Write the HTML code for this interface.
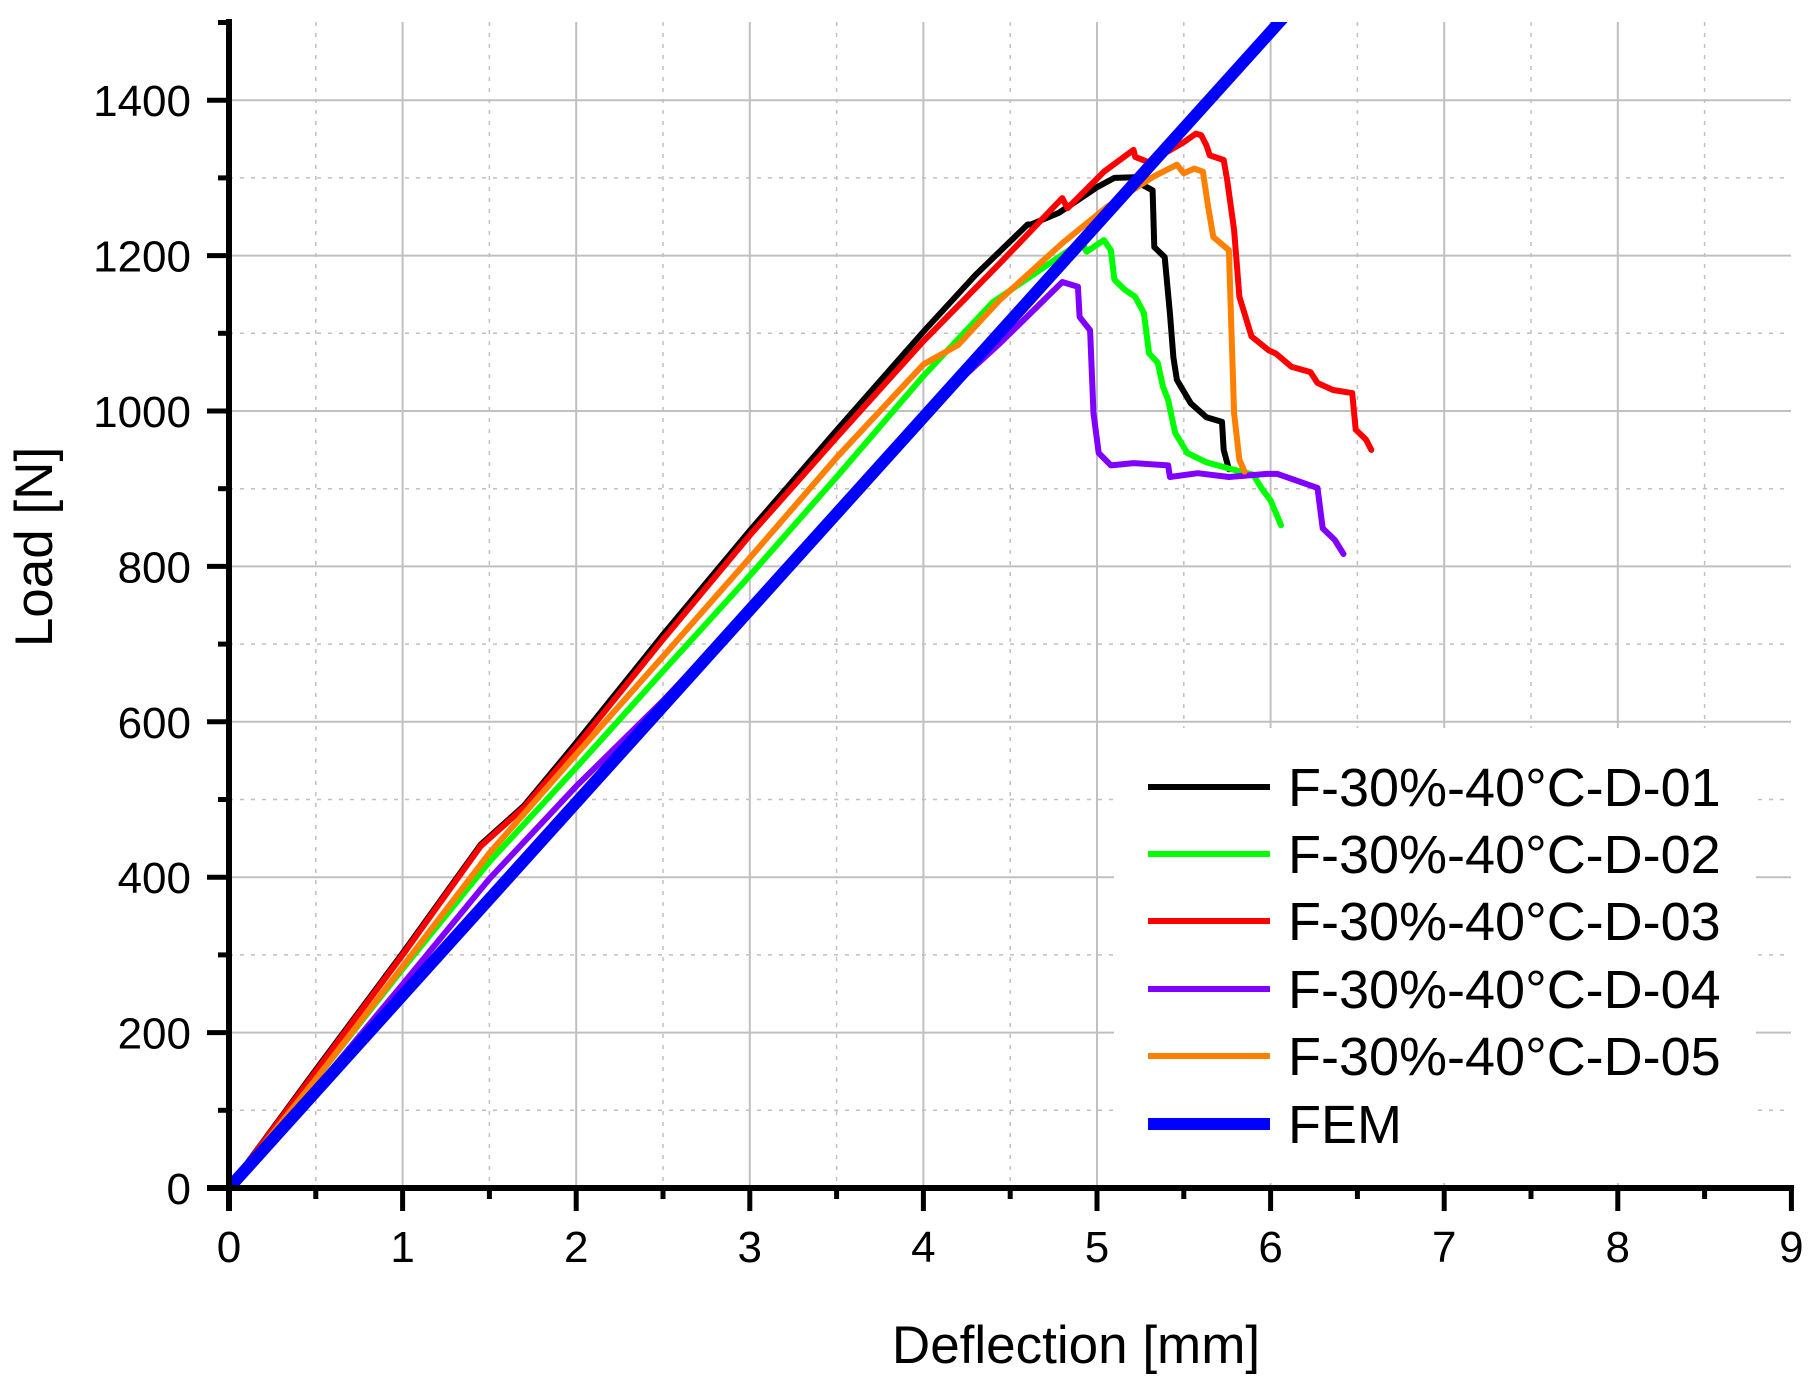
<!DOCTYPE html>
<html><head><meta charset="utf-8"><style>
html,body{margin:0;padding:0;background:#fff;}
svg{display:block;font-family:"Liberation Sans",Arial,sans-serif;}
</style></head><body>
<svg id="chart" width="1820" height="1386" viewBox="0 0 1820 1386" xmlns="http://www.w3.org/2000/svg">
<defs><clipPath id="plotclip"><rect x="229" y="22" width="1562" height="1166"/></clipPath></defs>
<g id="grid"></g>
<g id="series" clip-path="url(#plotclip)"></g>
<g id="legend"></g>
<g id="axes"></g>
<text x="1076" y="1363" font-size="53" text-anchor="middle">Deflection [mm]</text>
<text transform="translate(52,547) rotate(-90)" font-size="53" text-anchor="middle">Load [N]</text>
</svg>
<script>
const xTicks = [0,1,2,3,4,5,6,7,8,9];
const yTicks = [0,200,400,600,800,1000,1200,1400];
const seriesNames = ["F-30%-40°C-D-01","F-30%-40°C-D-02","F-30%-40°C-D-03","F-30%-40°C-D-04","F-30%-40°C-D-05","FEM"];
const seriesColors = ["#000000","#00ff00","#ff0000","#8000ff","#ff8000","#0000ff"];
const d01x = [0,0.5,1,1.45,1.7,2,2.5,3,3.5,4,4.3,4.6,4.62,4.78,5.0,5.1,5.24,5.27,5.32,5.33,5.39,5.42,5.44,5.46,5.54,5.63,5.72,5.73,5.76];
const d01y = [0,152,302,442,492,573,712,846,975,1102,1175,1240,1240,1255,1288,1300,1301,1290,1284,1211,1198,1126,1069,1040,1010,992,986,950,925];
const d02x = [0,0.5,1,1.5,2,2.5,3,3.5,4,4.4,4.8,4.91,4.94,5.04,5.08,5.10,5.16,5.22,5.27,5.30,5.35,5.38,5.41,5.45,5.52,5.63,5.76,5.9,5.95,6.0,6.06];
const d02y = [0,140,282,420,541,665,788,915,1045,1140,1201,1218,1205,1220,1207,1169,1156,1147,1126,1074,1062,1031,1014,972,946,934,926,918,900,885,853];
const d03x = [0,0.5,1,1.45,1.7,2,2.5,3,3.5,4,4.44,4.80,4.83,5.04,5.21,5.22,5.30,5.50,5.57,5.60,5.63,5.65,5.73,5.75,5.79,5.82,5.89,5.99,6.03,6.12,6.23,6.27,6.36,6.47,6.49,6.55,6.58];
const d03y = [0,150,300,440,490,568,706,840,966,1090,1190,1274,1261,1308,1336,1327,1320,1346,1357,1355,1342,1329,1323,1297,1233,1147,1096,1078,1074,1057,1050,1036,1027,1023,976,963,950];
const d04x = [0,0.5,1,1.5,2,2.5,3,3.5,4,4.44,4.80,4.89,4.90,4.96,4.98,5.01,5.08,5.21,5.41,5.42,5.58,5.76,5.98,6.04,6.27,6.30,6.37,6.42];
const d04y = [0,128,262,398,517,627,745,872,997,1087,1166,1160,1121,1104,997,946,930,933,930,915,920,915,919,919,901,849,834,816];
const d05x = [0,0.5,1,1.5,2,2.5,3,3.5,4,4.2,4.44,4.80,5.06,5.32,5.46,5.50,5.56,5.61,5.64,5.67,5.76,5.77,5.79,5.82,5.85];
const d05y = [0,140,285,431,558,684,811,940,1060,1085,1143,1216,1263,1301,1317,1306,1312,1308,1263,1224,1207,1134,997,937,922];
const femX = [0,6.5];
const femY = [0,1612];
const seriesX = [d01x,d02x,d03x,d04x,d05x,femX];
const seriesY = [d01y,d02y,d03y,d04y,d05y,femY];
const seriesWidth = [6,6,6,6,6,12];

const X0=229, XS=173.6, Y0=1188, YS=0.777;
const sx = v => X0 + v*XS;
const sy = v => Y0 - v*YS;
const NS="http://www.w3.org/2000/svg";
function mk(tag, attrs, parent){const e=document.createElementNS(NS,tag);for(const k in attrs)e.setAttribute(k,attrs[k]);parent.appendChild(e);return e;}

const grid=document.getElementById('grid');
for(let i=0;i<9;i++){
  if(i>0){const l=mk('line',{x1:sx(i),x2:sx(i),y1:22,y2:Y0,stroke:'#c0c0c0','stroke-width':2},grid);
  
  }
  const m=mk('line',{x1:sx(i+0.5),x2:sx(i+0.5),y1:22,y2:Y0,stroke:'#c0c0c0','stroke-width':1.5,'stroke-dasharray':'4 7'},grid);
  
  
}
for(let v=100;v<1500;v+=100){
  const major=v%200===0;
  const l=mk('line',{x1:X0,x2:1791,y1:sy(v),y2:sy(v),stroke:'#c0c0c0','stroke-width':major?2:1.5},grid);
  if(!major)l.setAttribute('stroke-dasharray','4 7');
  
  
}

const sg=document.getElementById('series');
for(let s=0;s<seriesX.length;s++){
  const pts=seriesX[s].map((x,i)=>sx(x).toFixed(1)+','+sy(seriesY[s][i]).toFixed(1)).join(' ');
  const p=mk('polyline',{points:pts,fill:'none',stroke:seriesColors[s],'stroke-width':seriesWidth[s],'stroke-linejoin':'round','stroke-linecap':'round'},sg);
  
  
}

const lg=document.getElementById('legend');
const bg=mk('rect',{x:1114,y:728,width:642,height:455,fill:'#fff'},lg);


const rowY=[787,854,921,989,1056,1124];
for(let s=0;s<seriesNames.length;s++){
  const l=mk('line',{x1:1148,x2:1270,y1:rowY[s],y2:rowY[s],stroke:seriesColors[s],'stroke-width':seriesWidth[s]},lg);
  
  
  const t=mk('text',{x:1288,y:rowY[s]+19,'font-size':54},lg);
  t.textContent=seriesNames[s];
  
  
}

const ax=document.getElementById('axes');
const xa=mk('line',{x1:207,x2:1794,y1:Y0,y2:Y0,stroke:'#000','stroke-width':6},ax);


const ya=mk('line',{x1:X0,x2:X0,y1:19,y2:1211,stroke:'#000','stroke-width':6},ax);


xTicks.forEach(v=>{
  const t=mk('line',{x1:sx(v),x2:sx(v),y1:Y0,y2:1211,stroke:'#000','stroke-width':5},ax);
  
  
  const lb=mk('text',{x:sx(v),y:1262,'font-size':44,'text-anchor':'middle'},ax);
  lb.textContent=v;
  
  
  if(v<9){const m=mk('line',{x1:sx(v+0.5),x2:sx(v+0.5),y1:Y0,y2:1199,stroke:'#000','stroke-width':5},ax);
  
  }
});
yTicks.forEach(v=>{
  const t=mk('line',{x1:207,x2:X0,y1:sy(v),y2:sy(v),stroke:'#000','stroke-width':5},ax);
  
  
  const lb=mk('text',{x:191,y:sy(v)+16,'font-size':44,'text-anchor':'end'},ax);
  lb.textContent=v;
  
  
  const m=mk('line',{x1:218,x2:X0,y1:sy(v+100),y2:sy(v+100),stroke:'#000','stroke-width':5},ax);
  
  
});
</script>
</body></html>
